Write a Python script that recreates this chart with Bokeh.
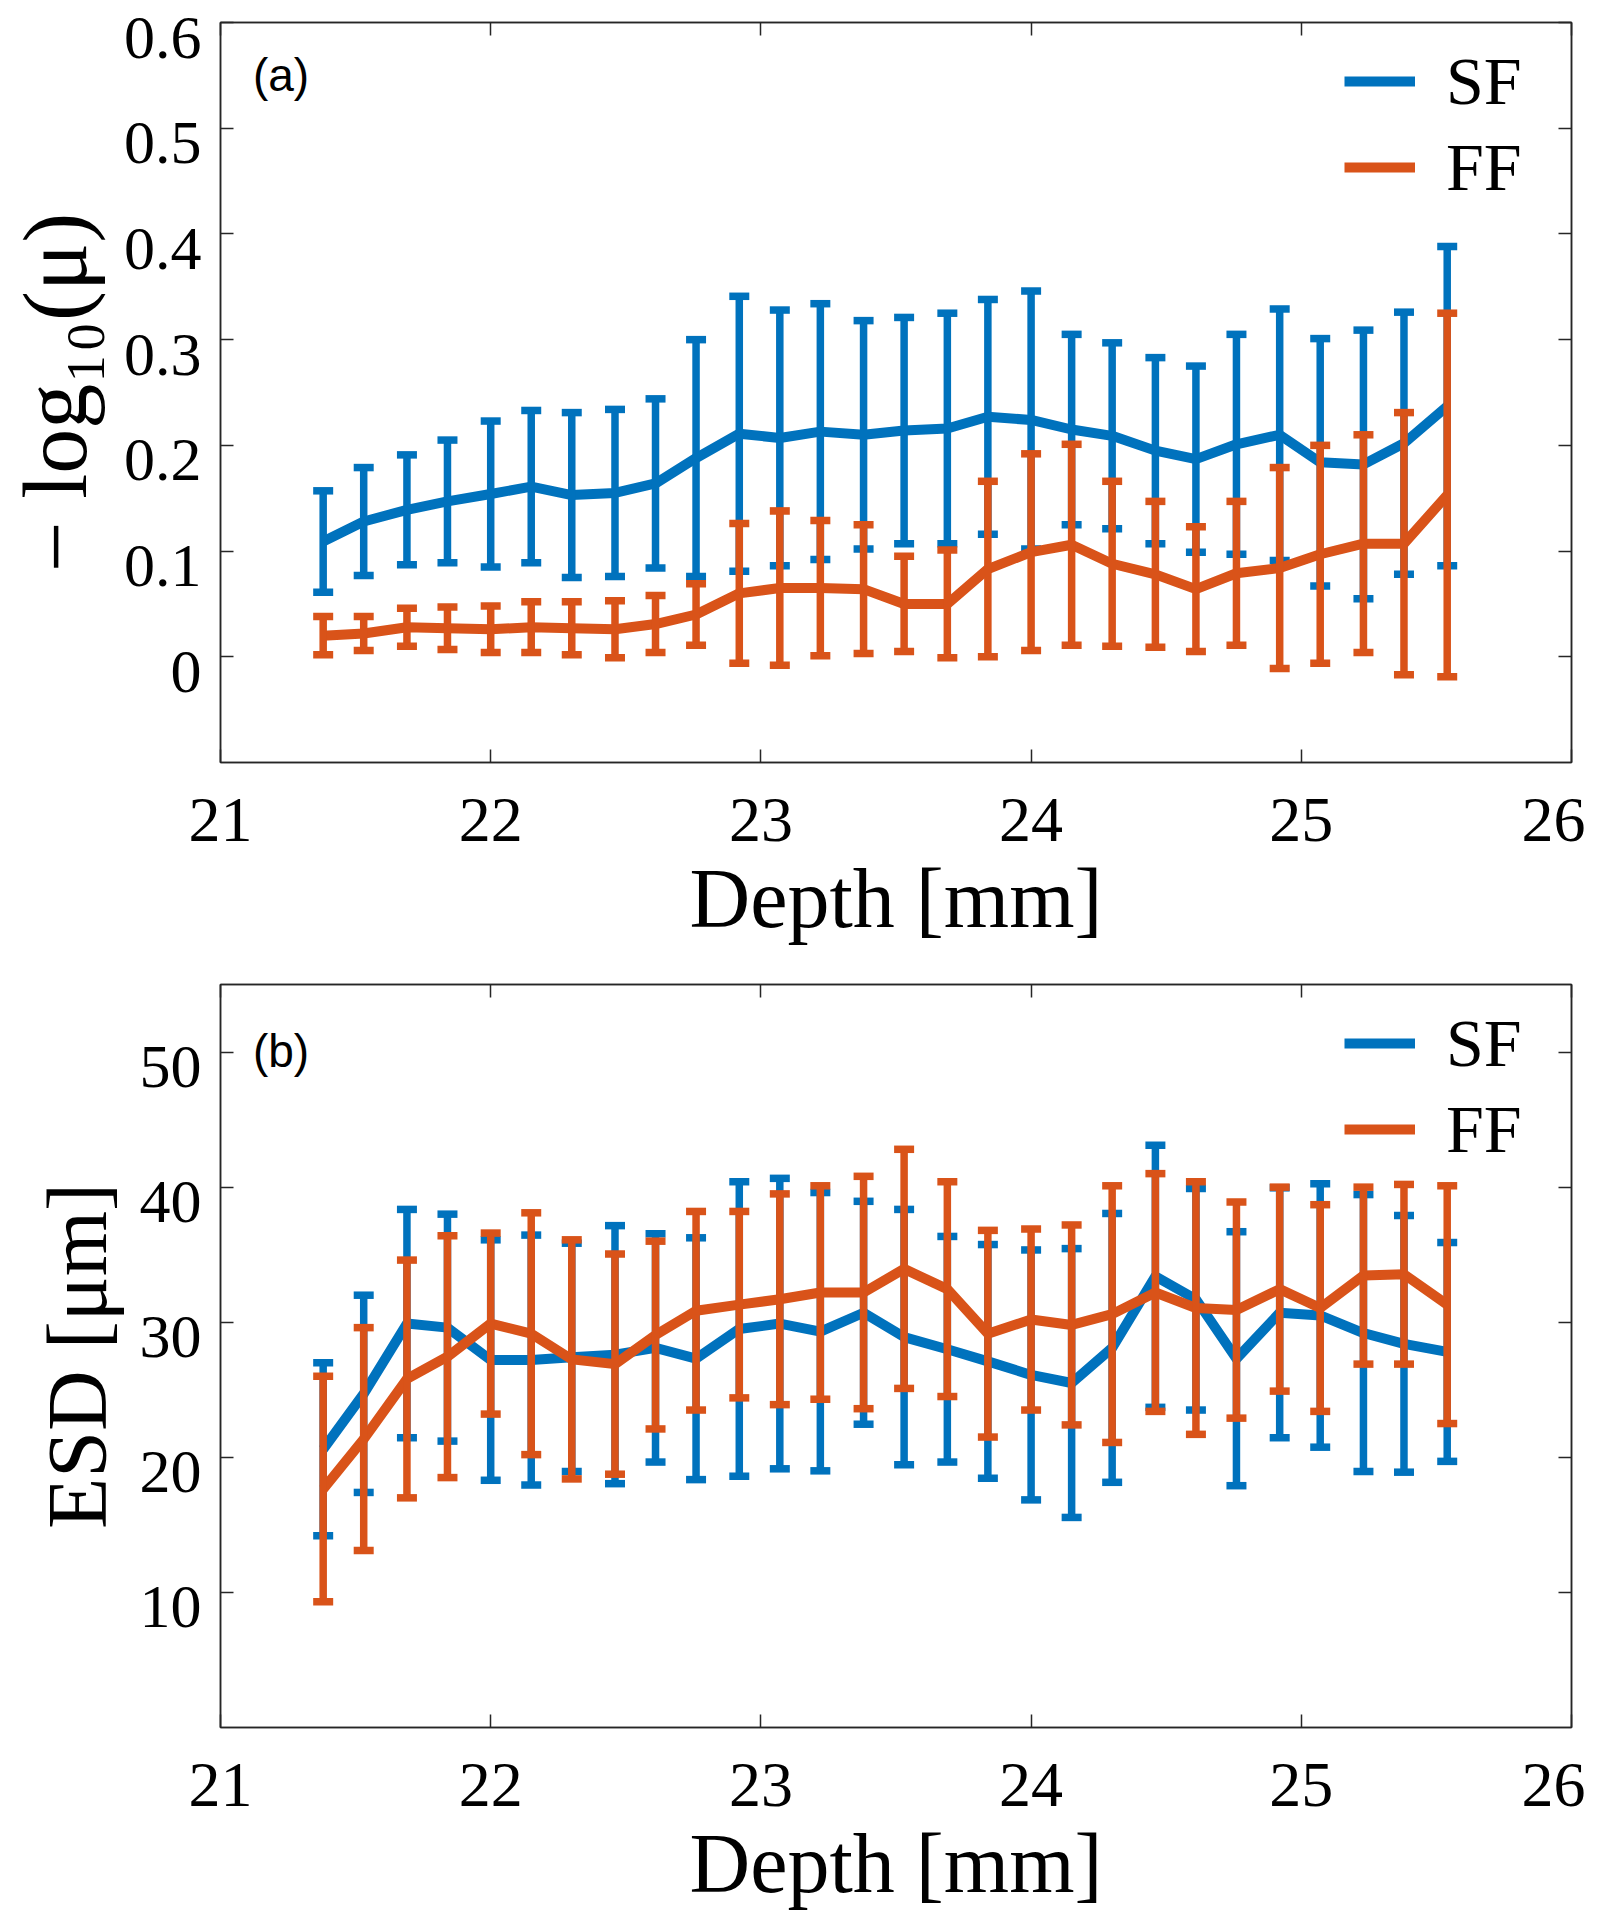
from bokeh.plotting import figure
from bokeh.models import (FixedTicker, LinearAxis, Range1d, Legend, LegendItem,
                          Label, CustomJSTickFormatter, NumeralTickFormatter,
                          BasicTickFormatter)
from bokeh.layouts import column
from bokeh.embed import file_html
from bokeh.resources import INLINE

# ---------------- data ----------------
depth = [21.38, 21.53, 21.69, 21.84, 22.00, 22.15, 22.30, 22.46, 22.61, 22.76,
         22.92, 23.07, 23.22, 23.38, 23.53, 23.69, 23.84, 24.00, 24.15, 24.30,
         24.46, 24.61, 24.76, 24.92, 25.07, 25.23, 25.38, 25.54]

series_names = ["SF", "FF"]

# panel (a): -log10(mu)
sf_mu = [0.109, 0.128, 0.139, 0.147, 0.154, 0.161, 0.153, 0.155, 0.164, 0.188,
         0.211, 0.207, 0.213, 0.210, 0.214, 0.216, 0.227, 0.224, 0.215, 0.209,
         0.195, 0.187, 0.201, 0.210, 0.184, 0.182, 0.202, 0.237]
sf_mu_err = [0.048, 0.051, 0.052, 0.058, 0.069, 0.072, 0.078, 0.079, 0.080, 0.112,
             0.130, 0.121, 0.121, 0.108, 0.107, 0.109, 0.111, 0.122, 0.090, 0.088,
             0.088, 0.088, 0.104, 0.119, 0.117, 0.127, 0.124, 0.151]
ff_mu = [0.020, 0.022, 0.028, 0.027, 0.026, 0.028, 0.027, 0.026, 0.031, 0.040,
         0.060, 0.065, 0.065, 0.064, 0.050, 0.050, 0.083, 0.099, 0.106, 0.088,
         0.078, 0.064, 0.079, 0.084, 0.097, 0.107, 0.107, 0.153]
ff_mu_err = [0.018, 0.016, 0.018, 0.020, 0.022, 0.024, 0.025, 0.027, 0.027, 0.029,
             0.066, 0.073, 0.064, 0.061, 0.045, 0.051, 0.083, 0.093, 0.095, 0.078,
             0.069, 0.059, 0.068, 0.095, 0.103, 0.103, 0.124, 0.172]

# panel (b): ESD [um]
sf_esd = [20.6, 24.7, 29.9, 29.6, 27.2, 27.2, 27.4, 27.6, 28.1, 27.3,
          29.5, 29.9, 29.3, 30.7, 28.9, 28.0, 27.1, 26.1, 25.5, 28.1,
          33.4, 31.7, 27.3, 30.7, 30.5, 29.2, 28.4, 27.8]
sf_esd_err = [6.4, 7.3, 8.45, 8.4, 8.9, 9.25, 8.45, 9.55, 8.45, 8.95,
              10.9, 10.75, 10.3, 8.25, 9.45, 8.35, 8.65, 9.25, 9.95, 9.95,
              9.7, 8.2, 9.4, 9.25, 9.75, 10.25, 9.5, 8.1]
ff_esd = [17.65, 21.35, 25.8, 27.45, 29.9, 29.15, 27.25, 26.9, 29.05, 30.85,
          31.3, 31.7, 32.2, 32.2, 33.95, 32.45, 29.15, 30.2, 29.8, 30.6,
          32.2, 31.05, 30.9, 32.45, 31.05, 33.45, 33.55, 31.3]
ff_esd_err = [8.35, 8.25, 8.8, 8.95, 6.7, 8.95, 8.85, 8.15, 6.95, 7.35,
              6.9, 7.8, 7.9, 8.6, 8.85, 7.95, 7.65, 6.7, 7.4, 9.5,
              8.8, 9.35, 8.0, 7.55, 7.65, 6.55, 6.65, 8.8]

x_ticks = [21, 22, 23, 24, 25, 26]
y_ticks_a = [0, 0.1, 0.2, 0.3, 0.4, 0.5, 0.6]
y_ticks_b = [10, 20, 30, 40, 50]

# ---------------- styling ----------------
BLUE = "#0072BD"
ORANGE = "#D95319"
AX = "#262626"
SERIF = "Liberation Serif"
BLANK = "return ''"
LABEL_DROP_PX = 15   # y tick labels sit slightly below their ticks


def style_axis(ax):
    ax.major_tick_in = 13
    ax.major_tick_out = 0
    ax.minor_tick_in = 0
    ax.minor_tick_out = 0
    ax.axis_line_color = AX
    ax.axis_line_width = 1.5
    ax.major_tick_line_color = AX
    ax.major_tick_line_width = 1.5


def make_panel(y_lo, y_hi, y_ticks, y_fmt, y_label, y_label_size,
               y_label_standoff, series, tag, tag_y, frame_h, top_b, bottom_b):
    p = figure(frame_width=1351, frame_height=frame_h,
               x_range=Range1d(21, 26), y_range=Range1d(y_lo, y_hi),
               output_backend="svg", toolbar_location=None,
               min_border_left=220, min_border_right=14,
               min_border_top=top_b, min_border_bottom=bottom_b,
               background_fill_color="white", border_fill_color="white")
    p.grid.visible = False
    p.outline_line_color = AX
    p.outline_line_width = 1.5

    xa = p.xaxis[0]
    xa.ticker = FixedTicker(ticks=x_ticks)
    xa.major_label_text_font = SERIF
    xa.major_label_text_font_size = "64px"
    xa.major_label_text_color = "black"
    xa.major_label_standoff = 36
    xa.axis_label = "Depth [mm]"
    xa.axis_label_text_font = SERIF
    xa.axis_label_text_font_size = "84px"
    xa.axis_label_text_font_style = "normal"
    xa.axis_label_text_color = "black"
    xa.axis_label_standoff = 8
    style_axis(xa)

    # inner left axis: ticks only
    ya = p.yaxis[0]
    ya.ticker = FixedTicker(ticks=y_ticks)
    ya.formatter = CustomJSTickFormatter(code=BLANK)
    ya.major_label_standoff = 0
    style_axis(ya)

    # outer left axis: tick labels (dropped a little) and the title
    d = LABEL_DROP_PX * (y_hi - y_lo) / frame_h
    p.extra_y_ranges = {"lab": Range1d(y_lo + d, y_hi + d)}
    lab = LinearAxis(y_range_name="lab", ticker=FixedTicker(ticks=y_ticks),
                     formatter=y_fmt)
    lab.axis_line_color = None
    lab.major_tick_line_color = None
    lab.minor_tick_line_color = None
    lab.major_tick_in = 0
    lab.major_tick_out = 0
    lab.major_label_standoff = 19
    lab.major_label_text_font = SERIF
    lab.major_label_text_font_size = "62px"
    lab.major_label_text_color = "black"
    lab.axis_label = y_label
    lab.axis_label_text_font = SERIF
    lab.axis_label_text_font_size = y_label_size
    lab.axis_label_text_font_style = "normal"
    lab.axis_label_text_color = "black"
    lab.axis_label_standoff = y_label_standoff
    p.add_layout(lab, "left")

    top = LinearAxis(ticker=FixedTicker(ticks=x_ticks),
                     formatter=CustomJSTickFormatter(code=BLANK),
                     major_label_standoff=0)
    right = LinearAxis(ticker=FixedTicker(ticks=y_ticks),
                       formatter=CustomJSTickFormatter(code=BLANK),
                       major_label_standoff=0)
    style_axis(top)
    style_axis(right)
    p.add_layout(top, "above")
    p.add_layout(right, "right")

    items = []
    for name, mean, err, color in series:
        lower = [m - e for m, e in zip(mean, err)]
        upper = [m + e for m, e in zip(mean, err)]
        r = p.line(depth, mean, line_width=10, line_color=color,
                   line_join="round")
        p.segment(x0=depth, y0=lower, x1=depth, y1=upper,
                  line_width=7.5, line_color=color)
        p.scatter(depth, upper, marker="dash", size=20, line_width=7.5,
                  line_color=color)
        p.scatter(depth, lower, marker="dash", size=20, line_width=7.5,
                  line_color=color)
        items.append(LegendItem(label=name, renderers=[r]))

    legend = Legend(items=items, location="top_right", margin=16, padding=0,
                    spacing=0, glyph_width=71, glyph_height=86,
                    label_height=86, label_width=109, label_standoff=31,
                    label_text_font=SERIF, label_text_font_size="68px",
                    label_text_color="black",
                    border_line_alpha=0, background_fill_alpha=0)
    p.add_layout(legend)

    p.add_layout(Label(x=21.12, y=tag_y, text=tag, text_font="Liberation Sans",
                       text_font_size="46px", text_baseline="top",
                       text_align="left", text_color="black"))
    return p


p1 = make_panel(-0.1, 0.6, y_ticks_a, NumeralTickFormatter(format="0.[0]"),
                "\u2212 log\u2081\u2080(\u03bc)", "90px", 16,
                [(series_names[0], sf_mu, sf_mu_err, BLUE),
                 (series_names[1], ff_mu, ff_mu_err, ORANGE)],
                "(a)", 0.5746, 740, 22, 183)

p2 = make_panel(0, 55, y_ticks_b, BasicTickFormatter(), "ESD [\u03bcm]", "84px", 13,
                [(series_names[0], sf_esd, sf_esd_err, BLUE),
                 (series_names[1], ff_esd, ff_esd_err, ORANGE)],
                "(b)", 52.0, 743, 37, 183)

layout = column(p1, p2, spacing=0)
open("out.html", "w").write(file_html(layout, INLINE))
